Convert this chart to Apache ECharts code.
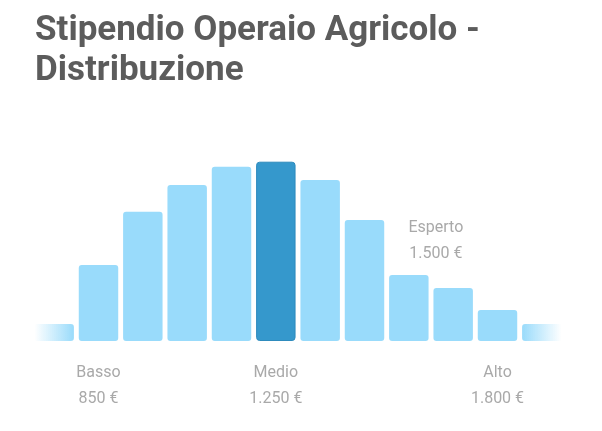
<!DOCTYPE html>
<html>
<head>
<meta charset="utf-8">
<script src="https://cdn.jsdelivr.net/npm/echarts@6/dist/echarts.min.js"></script>
<style>
  html, body { margin: 0; padding: 0; background: #fff; }
  #chart { width: 602px; height: 431px; }
</style>
</head>
<body>
<div id="chart"></div>
<script>
// fasce di stipendio (12 classi, le due esterne sfumate)
var bins = ['b0', 'b1', 'b2', 'b3', 'b4', 'b5', 'b6', 'b7', 'b8', 'b9', 'b10', 'b11'];
var freq = [9.5, 42.4, 72.1, 87, 97.2, 100, 89.8, 67.5, 36.8, 29.6, 17.3, 9.5];

// etichette sotto l'asse
var tickIndex = [1, 5, 10];
var tickNames = ['Basso', 'Medio', 'Alto'];
var tickValues = ['850 €', '1.250 €', '1.800 €'];

// etichetta sopra le barre
var expertIndex = 8;
var expertName = 'Esperto';
var expertValue = '1.500 €';

var highlightIndex = 5;

var light = '#99dbfb';
var dark = '#3598cc';
var grey = '#a9a9a9';

var chart = echarts.init(document.getElementById('chart'));

var data = freq.map(function (v, i) {
    var item = { value: v };
    if (i === 0 || i === freq.length - 1) {
        var fromLeft = i === 0;
        item.itemStyle = {
            color: new echarts.graphic.LinearGradient(0, 0, 1, 0, [
                { offset: 0, color: fromLeft ? 'rgba(153,219,251,0)' : light },
                { offset: 1, color: fromLeft ? light : 'rgba(153,219,251,0)' }
            ])
        };
    } else if (i === highlightIndex) {
        item.itemStyle = { color: dark, borderColor: '#2e8bbd', borderWidth: 1 };
    }
    if (i === expertIndex) {
        item.label = {
            show: true,
            position: 'top',
            offset: [27, -3],
            formatter: expertName + '\n' + expertValue,
            color: grey,
            fontSize: 16,
            lineHeight: 26,
            fontFamily: 'Roboto'
        };
    }
    return item;
});

var option = {
    animation: false,
    title: {
        text: 'Stipendio Operaio Agricolo -\nDistribuzione',
        left: 30,
        top: 6,
        textStyle: {
            fontFamily: 'Roboto',
            fontSize: 35,
            fontWeight: 'bold',
            color: '#5c5c5c',
            lineHeight: 40
        }
    },
    grid: {
        left: 32,
        right: 38,
        top: 161.7,
        bottom: 90
    },
    xAxis: {
        type: 'category',
        data: bins,
        axisLine: { show: false },
        axisTick: { show: false },
        axisLabel: {
            interval: 0,
            margin: 19,
            formatter: function (val, idx) {
                var k = tickIndex.indexOf(idx);
                if (k < 0) return '';
                return tickNames[k] + '\n' + tickValues[k];
            },
            color: grey,
            fontSize: 16,
            lineHeight: 26,
            fontFamily: 'Roboto'
        }
    },
    yAxis: {
        type: 'value',
        min: 0,
        max: 100,
        show: false,
        splitLine: { show: false }
    },
    series: [{
        type: 'bar',
        data: data,
        barCategoryGap: '11%',
        itemStyle: {
            color: light,
            borderRadius: 3
        }
    }]
};

chart.setOption(option);
</script>
</body>
</html>
